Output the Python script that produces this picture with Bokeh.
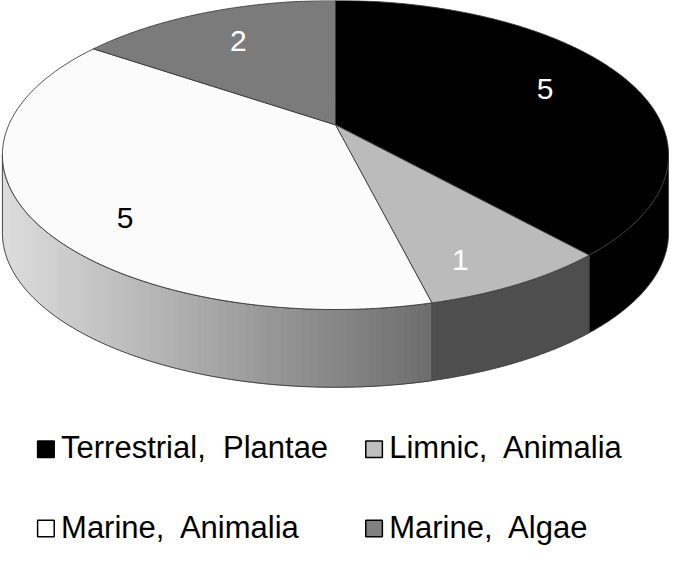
import numpy as np
from bokeh.plotting import figure
from bokeh.models import Range1d
from bokeh.core.properties import value
from bokeh.embed import file_html
from bokeh.resources import INLINE

# ---- data ----
categories = ["Terrestrial,  Plantae", "Limnic,  Animalia", "Marine,  Animalia", "Marine,  Algae"]
counts = [5, 1, 5, 2]
top_colors = ["#000000", "#bbbbbb", "#fbfbfb", "#7b7b7b"]
side_colors = ["#000000", "#4e4e4e", "gradient", "#5a5a5a"]
label_colors = ["#ffffff", "#ffffff", "#000000", "#ffffff"]
legend_colors = ["#000000", "#bfbfbf", "#ffffff", "#808080"]

# ---- geometry (reference-image pixels, y down) ----
SW, SH = 685, 562
CX, CY = 343.0, 128.0          # apex of the pie
A, B, K = 334.5, 153.0, 0.195  # radii and perspective factor
TH = 80.0                      # thickness of the pie
FONT = value("Liberation Sans")


def proj(t_deg, f=1.0):
    t = np.radians(t_deg)
    u = f * np.sin(t)
    v = f * np.cos(t)
    d = 1 + K * v
    return CX + A * u / d, CY - B * v / d


def to_data(sy):
    return SH - np.asarray(sy)


p = figure(width=669, height=546, x_range=Range1d(0, SW), y_range=Range1d(0, SH),
           output_backend="svg", toolbar_location=None, min_border=0)
p.axis.visible = False
p.grid.visible = False
p.outline_line_color = None
p.background_fill_color = "white"
p.border_fill_color = "white"

total = float(sum(counts))
angles = np.cumsum([0] + counts) / total * 360.0
vis0 = 90 + np.degrees(np.arcsin(K))
vis1 = 270 - np.degrees(np.arcsin(K))

EDGE = "#3a3a3a"

# ---- side faces ----
for i in range(len(counts)):
    lo = max(angles[i], vis0)
    hi = min(angles[i + 1], vis1)
    if hi <= lo:
        continue
    ts = np.linspace(lo, hi, 120)
    x_top, y_top = proj(ts)
    poly_x = list(x_top) + list(x_top[::-1])
    poly_y = list(y_top) + list((y_top + TH)[::-1])
    if side_colors[i] == "gradient":
        n = 90
        tt = np.linspace(lo, hi, n + 1)
        xs, ys, cols = [], [], []
        for j in range(n):
            seg = np.linspace(tt[j], tt[j + 1], 4)
            sx, sy = proj(seg)
            xs.append(list(sx) + list(sx[::-1]))
            ys.append(list(to_data(sy)) + list(to_data(sy + TH)[::-1]))
            xm = float(np.mean(sx))
            frac = np.clip((xm - 5) / (440 - 5), 0, 1)
            g = int(round(0xdc + (0x6e - 0xdc) * frac))
            cols.append("#%02x%02x%02x" % (g, g, g))
        p.patches(xs, ys, fill_color=cols, line_color=cols, line_width=1)
        p.patch(poly_x, list(to_data(poly_y)), fill_alpha=0, line_color=EDGE, line_width=0.9)
    else:
        p.patch(poly_x, list(to_data(poly_y)), fill_color=side_colors[i],
                line_color=EDGE, line_width=0.9)

# ---- top slices ----
top_xs, top_ys = [], []
for i in range(len(counts)):
    ts = np.linspace(angles[i], angles[i + 1], 200)
    sx, sy = proj(ts)
    top_xs.append([CX] + list(sx))
    top_ys.append(list(to_data([CY] + list(sy))))
p.patches(top_xs, top_ys, fill_color=top_colors, line_color=EDGE, line_width=0.9)

# ---- data labels ----
lx, ly = [], []
for i in range(len(counts)):
    mid = (angles[i] + angles[i + 1]) / 2
    sx, sy = proj(mid, 0.72)
    if np.cos(np.radians(mid)) < 0:
        sy = sy + 28
    lx.append(float(sx))
    ly.append(float(to_data(sy)))
p.text(lx, ly, text=[str(c) for c in counts], text_color=label_colors,
       text_align="center", text_baseline="middle", text_font=FONT,
       text_font_size="30px")

# ---- legend ----
leg_x = [46.5, 382.5, 46.5, 382.5]
leg_y = [462, 462, 543.5, 543.5]
txt_x = [62, 398, 62, 398]
txt_y = [460.5, 460.5, 542.5, 542.5]
shown = [c.replace("  ", "\u00a0 ") for c in categories]
p.rect(leg_x, list(to_data(leg_y)), width=17, height=17, fill_color=legend_colors,
       line_color="#000000", line_width=1.5)
p.text(txt_x, list(to_data(txt_y)), text=shown, text_color="#000000",
       text_align="left", text_baseline="middle", text_font=FONT,
       text_font_size="31px")

open("out.html", "w").write(file_html(p, INLINE))
